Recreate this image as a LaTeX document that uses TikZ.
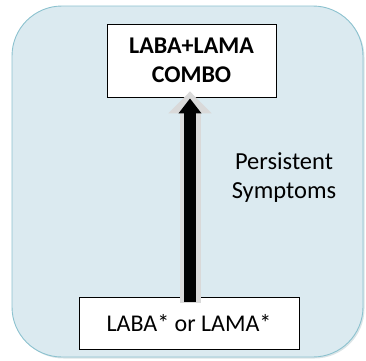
\documentclass[tikz,border=0pt]{standalone}
\usepackage{fontspec}
\setmainfont{Carlito}
\usetikzlibrary{arrows.meta}
\definecolor{panelfill}{HTML}{DBEAF0}
\definecolor{paneldraw}{HTML}{8CC2CF}
\definecolor{rimgrey}{HTML}{D9D9D9}
\tikzset{
  drugbox/.style={draw=black, fill=white, line width=0.8pt, align=center,
    inner sep=0pt, font=\fontsize{24}{29}\selectfont}
}
\begin{document}
\begin{tikzpicture}[x=1pt,y=1pt]
      \useasboundingbox (0,0) rectangle (366,360);
      \fill[paneldraw!60!gray, opacity=0.3, rounded corners=50pt]
        (13.5,1.5) rectangle (364.5,352.5);
      \draw[draw=paneldraw, fill=panelfill, line width=0.9pt, rounded corners=50pt]
        (12,3) rectangle (363,354);
      \draw
        (191.5,299.5) node[drugbox, minimum width=169, minimum height=73] (top)
          {\bfseries LABA+LAMA\\\bfseries COMBO}
        (189,37) node[drugbox, minimum width=220, minimum height=52] (low)
          {LABA* or LAMA*}
        (284,182.5) node[align=center, font=\fontsize{24.5}{29}\selectfont] (why)
          {Persistent\\Symptoms};
      \begin{scope}[-{Triangle[width=42pt,length=22pt]}]
        \draw[rimgrey, line width=21pt] ([xshift=1pt,yshift=-6pt]low.north)
          to ([xshift=1pt,yshift=6pt]low.north |- top.south);
      \end{scope}
      \begin{scope}[-{Triangle[width=22pt,length=15pt]}]
        \draw[black, line width=12pt] ([xshift=1pt,yshift=-5pt]low.north)
          to ([xshift=1pt,yshift=-1pt]low.north |- top.south);
      \end{scope}
    \end{tikzpicture}
\end{document}
